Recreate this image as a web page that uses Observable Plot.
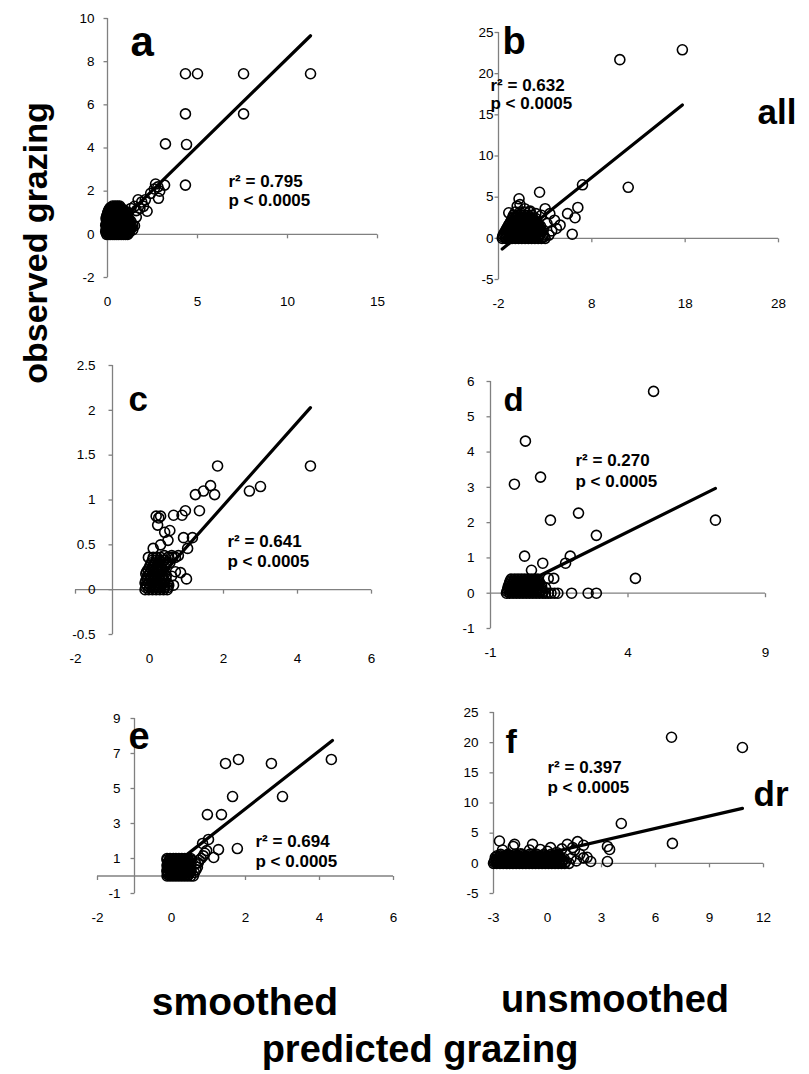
<!DOCTYPE html>
<html><head><meta charset="utf-8">
<script src="https://cdn.jsdelivr.net/npm/d3@7"></script>
<script src="https://cdn.jsdelivr.net/npm/@observablehq/plot@0.6"></script>
<style>
html,body{margin:0;padding:0;background:#fff;}
#fig{position:relative;width:809px;height:1074px;overflow:hidden;background:#fff;}
#fig svg{position:absolute;left:0;top:0;}
</style></head><body><div id="fig"></div>
<script>
// ---------------- data ----------------
// scattered points [predicted, observed]
const ptsA = [
[4.33,7.44],[5.0,7.44],[7.56,7.44],[11.28,7.44],[4.33,5.58],[7.56,5.58],[3.22,4.19],[4.39,4.16],[4.33,2.28],
[2.67,2.33],[3.17,2.28],[2.9,2.0],[2.83,1.67],[2.2,1.07],[2.8,2.2],[2.4,1.9],[2.6,2.1],[2.1,1.6],[1.9,1.5],[1.7,1.6],
[1.5,1.3],[1.6,1.1],[1.3,1.2],[1.1,1.0],[1.2,0.7],[1.8,1.2],[2.0,1.3],[1.6,0.8],[1.3,0.6],[1.5,0.4],[1.4,0.2],[1.2,0.1]
];
// dense clusters, one row per observed level: [observed, [predicted values]]
const rowsA = [
[0.0,  [-0.05,0.08,0.18,0.3,0.41,0.52,0.63,0.76,0.88,1.0,1.12]],
[0.06, [-0.02,0.12,0.24,0.36,0.47,0.58,0.7,0.82,0.94,1.06,1.18]],
[0.12, [-0.1,0.02,0.14,0.26,0.37,0.49,0.61,0.72,0.84,0.97,1.1,1.22]],
[0.2,  [-0.08,0.05,0.17,0.29,0.4,0.52,0.64,0.76,0.88,1.0,1.13,1.26]],
[0.27, [-0.06,0.07,0.19,0.31,0.43,0.56,0.68,0.79,0.92,1.04,1.17,1.3]],
[0.35, [-0.03,0.1,0.22,0.34,0.46,0.59,0.71,0.83,0.95,1.08,1.21,1.34]],
[0.42, [-0.1,0.03,0.15,0.27,0.39,0.5,0.62,0.74,0.87,0.99,1.12,1.25,1.4]],
[0.5,  [-0.07,0.06,0.18,0.3,0.42,0.55,0.67,0.79,0.91,1.03,1.16]],
[0.57, [-0.04,0.09,0.21,0.33,0.45,0.58,0.7,0.81,0.94,1.06,1.2]],
[0.65, [-0.02,0.11,0.23,0.36,0.48,0.6,0.72,0.85,0.97,1.1]],
[0.72, [-0.08,0.04,0.17,0.28,0.4,0.53,0.65,0.77,0.9,1.02,1.15]],
[0.8,  [-0.06,0.07,0.19,0.31,0.44,0.56,0.68,0.8,0.93,1.05]],
[0.87, [-0.03,0.1,0.22,0.35,0.47,0.59,0.71,0.83,0.96,1.08]],
[0.95, [0.0,0.12,0.25,0.37,0.49,0.61,0.73,0.86,0.98]],
[1.02, [0.02,0.14,0.27,0.39,0.51,0.63,0.76,0.88,1.0,1.13]],
[1.1,  [0.06,0.18,0.3,0.42,0.55,0.67,0.79,0.92]],
[1.17, [0.1,0.22,0.34,0.46,0.58,0.7,0.82]],
[1.24, [0.16,0.3,0.44,0.58,0.72]],
[1.31, [0.28,0.42,0.55,0.68]]
];
const fitA = [[0.0,0.0],[11.28,9.2]];

const ptsB = [
[11.0,21.7],[17.7,22.9],[11.9,6.2],[7.0,6.5],[6.5,3.75],[6.2,2.5],[5.4,3.0],[5.9,0.5],[2.4,5.6],[0.2,4.8],
[-0.9,3.1],[1.4,3.3],[3.0,3.6],[3.5,3.0],[4.6,1.6],[3.7,0.9],[2.9,0.2],[4.0,2.2],[2.6,2.8],[3.2,1.8],
[0.0,3.9],[0.3,4.1],[2.5,1.5],[2.8,1.0],[2.0,3.0],[-1.1,1.0],[0.8,3.6],[3.4,0.4],[4.2,1.2]
];
const rowsB = [
[0.0, [-1.6,-1.25,-0.9,-0.55,-0.2,0.15,0.5,0.85,1.2,1.55,1.9,2.25,2.6,3.0]],
[0.2, [-1.55,-1.2,-0.85,-0.5,-0.15,0.2,0.55,0.9,1.25,1.6,1.95,2.3,2.7]],
[0.4, [-1.5,-1.15,-0.8,-0.45,-0.1,0.25,0.6,0.95,1.3,1.65,2.0,2.35,2.8]],
[0.6, [-1.4,-1.05,-0.7,-0.35,0.0,0.35,0.7,1.05,1.4,1.75,2.1,2.5]],
[0.8, [-1.3,-0.95,-0.6,-0.25,0.1,0.45,0.8,1.15,1.5,1.85,2.2,2.6]],
[1.0, [-1.2,-0.85,-0.5,-0.15,0.2,0.55,0.9,1.25,1.6,1.95,2.35]],
[1.2, [-1.1,-0.75,-0.4,-0.05,0.3,0.65,1.0,1.35,1.7,2.05,2.45]],
[1.4, [-1.0,-0.65,-0.3,0.05,0.4,0.75,1.1,1.45,1.8,2.15]],
[1.6, [-0.9,-0.55,-0.2,0.15,0.5,0.85,1.2,1.55,1.9,2.3]],
[1.8, [-0.8,-0.45,-0.1,0.25,0.6,0.95,1.3,1.65,2.0]],
[2.0, [-0.7,-0.35,0.0,0.35,0.7,1.05,1.4,1.75,2.1]],
[2.2, [-0.6,-0.25,0.1,0.45,0.8,1.15,1.5,1.85]],
[2.4, [-0.5,-0.15,0.2,0.55,0.9,1.25,1.6,2.0]],
[2.6, [-0.45,-0.1,0.3,0.65,1.0,1.4]],
[2.8, [-0.4,0.0,0.4,0.8,1.2,1.6]],
[3.2, [-0.2,0.3,0.8,1.3]]
];
const fitB = [[-1.6,-1.3],[17.7,16.2]];

const ptsC = [
[4.35,1.38],[1.84,1.38],[3.0,1.15],[2.7,1.1],[1.65,1.16],[1.24,1.06],[1.46,1.1],[1.76,1.06],[1.35,0.88],[0.97,0.88],
[0.88,0.83],[0.65,0.83],[0.3,0.82],[0.18,0.82],[0.25,0.8],[0.22,0.72],[0.41,0.64],[0.55,0.66],[0.92,0.58],[1.16,0.58],
[1.03,0.46],[0.1,0.46],[-0.03,0.36],[0.4,0.38],[0.5,0.36],[0.6,0.38],[0.7,0.36],[0.78,0.38],
[0.84,0.19],[1.0,0.12],[0.65,0.05],[0.55,0.3],[0.6,0.15],[0.7,0.2],[0.3,0.5],[0.5,0.55]
];
const rowsC = [
[0.0,   [-0.12,-0.02,0.08,0.18,0.28,0.38,0.48]],
[0.025, [-0.1,0.0,0.1,0.2,0.3,0.4,0.5]],
[0.05,  [-0.08,0.02,0.12,0.22,0.32,0.42,0.52]],
[0.075, [-0.12,-0.02,0.08,0.18,0.28,0.38,0.48]],
[0.1,   [-0.1,0.0,0.1,0.2,0.3,0.4]],
[0.125, [-0.06,0.04,0.14,0.24,0.34,0.44]],
[0.15,  [-0.05,0.05,0.15,0.25,0.35,0.45]],
[0.175, [-0.1,0.0,0.1,0.2,0.3,0.4]],
[0.2,   [-0.08,0.02,0.12,0.22,0.32]],
[0.225, [-0.04,0.06,0.16,0.26,0.36]],
[0.25,  [0.0,0.1,0.2,0.3,0.42]],
[0.275, [0.02,0.12,0.22,0.32,0.44]],
[0.3,   [0.05,0.15,0.25,0.35,0.48]],
[0.33,  [0.08,0.18,0.28,0.4]],
[0.36,  [0.1,0.2,0.3,0.62]]
];
const fitC = [[0.0,0.01],[4.35,2.03]];

const ptsD = [
[4.93,5.72],[0.27,4.31],[-0.13,3.09],[0.82,3.29],[1.18,2.07],[2.2,2.27],[2.85,1.64],[7.18,2.07],[4.27,0.42],[0.24,1.05],
[0.9,0.85],[1.9,1.05],[1.73,0.85],[0.49,0.65],[1.1,0.42],[1.3,0.42],[1.95,0],[2.55,0],[2.85,0],[1.33,0],[1.1,0],[1.45,0],
[1.2,0],[1.0,0],[1.0,0.15]
];
const rowsD = [
[0.0,  [-0.42,-0.3,-0.18,-0.06,0.06,0.18,0.3,0.42,0.54,0.66,0.78,0.9]],
[0.05, [-0.4,-0.28,-0.16,-0.04,0.08,0.2,0.32,0.44,0.56,0.68,0.8,0.92]],
[0.1,  [-0.38,-0.26,-0.14,-0.02,0.1,0.22,0.34,0.46,0.58,0.7,0.82]],
[0.15, [-0.36,-0.24,-0.12,0.0,0.12,0.24,0.36,0.48,0.6,0.72,0.84]],
[0.2,  [-0.35,-0.22,-0.1,0.02,0.14,0.26,0.38,0.5,0.62,0.74,0.86]],
[0.25, [-0.32,-0.2,-0.08,0.04,0.16,0.28,0.4,0.52,0.64,0.76]],
[0.3,  [-0.3,-0.18,-0.06,0.06,0.18,0.3,0.42,0.54,0.66,0.78]],
[0.35, [-0.28,-0.15,-0.03,0.09,0.21,0.33,0.45,0.57,0.69]],
[0.4,  [-0.25,-0.12,0.0,0.12,0.24,0.36,0.48,0.6,0.72]]
];
const fitD = [[-0.42,0.03],[7.18,2.97]];

const ptsE = [
[1.81,6.66],[1.46,6.43],[2.7,6.43],[4.32,6.66],[1.65,4.54],[3.0,4.54],[0.97,3.51],[1.35,3.51],[1.78,1.57],[1.27,1.51],
[1.14,1.06],[1.0,2.09],[0.84,1.86],[0.9,1.3],[0.75,0.9],[0.7,0.5],[0.62,0.2],[0.59,0.0],[0.8,1.0],[0.65,0.7],
[0.66,0.35],[0.72,0.75],[0.86,1.15],[0.95,1.45]
];
const rowsE = [
[0.0,  [-0.12,-0.04,0.04,0.12,0.2,0.28,0.36,0.44,0.52]],
[0.08, [-0.1,-0.02,0.06,0.14,0.22,0.3,0.38,0.46]],
[0.17, [-0.09,0.0,0.08,0.16,0.25,0.32,0.4,0.49]],
[0.25, [-0.12,-0.04,0.04,0.12,0.2,0.28,0.36,0.44,0.52]],
[0.33, [-0.12,-0.03,0.05,0.12,0.2,0.29,0.36,0.44,0.53]],
[0.42, [-0.1,-0.02,0.06,0.14,0.22,0.3,0.38,0.46]],
[0.5,  [-0.08,0.0,0.09,0.16,0.24,0.33,0.4,0.48]],
[0.58, [-0.12,-0.04,0.04,0.12,0.2,0.28,0.36,0.44,0.52]],
[0.67, [-0.11,-0.04,0.04,0.13,0.2,0.28,0.37,0.44,0.52]],
[0.75, [-0.1,-0.02,0.06,0.14,0.22,0.3,0.38,0.46]],
[0.83, [-0.08,0.01,0.08,0.16,0.24,0.32,0.41,0.48]],
[0.92, [-0.12,-0.04,0.04,0.12,0.2,0.28,0.36,0.44,0.52]],
[1.0,  [-0.12,-0.04,0.05,0.12,0.2,0.28,0.36,0.45,0.52]]
];
const fitE = [[-0.05,0.45],[4.35,7.74]];

const ptsF = [
[6.89,20.9],[10.83,19.2],[4.1,6.6],[6.94,3.3],[3.33,2.8],[3.45,2.3],[3.33,0.3],[-2.67,3.7],[-1.83,3.15],[-0.83,3.15],
[0.17,2.6],[1.1,3.15],[1.67,3.6],[2.0,3.0],[1.5,2.2],[2.4,0.3],[2.2,1.0],[1.8,1.5],[1.3,0.8],[-1.9,2.8],[-2.2,1.3],
[-1.5,1.6],[0.5,1.8],[-1.0,2.2],[-0.4,2.3],[0.0,2.0],[1.2,0.0],[1.6,0.4],[2.0,0.9],[1.4,2.6],[0.8,2.4],[-2.5,2.2]
];
const rowsF = [
[0.0,  [-3.0,-2.82,-2.64,-2.46,-2.28,-2.1,-1.92,-1.74,-1.56,-1.38,-1.2,-1.02,-0.84,-0.66,-0.48,-0.3,-0.12,0.06,0.24,0.42,0.6,0.78,0.96]],
[0.25, [-2.96,-2.78,-2.6,-2.42,-2.24,-2.06,-1.88,-1.7,-1.52,-1.34,-1.16,-0.98,-0.8,-0.62,-0.44,-0.26,-0.08,0.1,0.28,0.46,0.64,0.82,1.0]],
[0.5,  [-2.92,-2.74,-2.56,-2.38,-2.2,-2.02,-1.84,-1.66,-1.48,-1.3,-1.12,-0.94,-0.76,-0.58,-0.4,-0.22,-0.04,0.14,0.32,0.5,0.68,0.86]],
[0.75, [-2.86,-2.68,-2.5,-2.32,-2.14,-1.96,-1.78,-1.6,-1.42,-1.24,-1.06,-0.88,-0.7,-0.52,-0.34,-0.16,0.02,0.2,0.38,0.56,0.74,0.92]],
[1.0,  [-2.9,-2.7,-2.5,-2.3,-2.1,-1.9,-1.7,-1.5,-1.3,-1.1,-0.9,-0.7,-0.5,-0.3,-0.1,0.1,0.3,0.5,0.7]],
[1.25, [-2.8,-2.6,-2.4,-2.2,-2.0,-1.8,-1.6,-1.4,-1.2,-1.0,-0.8,-0.6,-0.4,-0.2,0.0,0.2,0.4,0.6]],
[1.5,  [-2.6,-2.2,-1.8,-1.4,-1.0,-0.6,-0.2,0.2,0.6]]
];
const fitF = [[-3,-0.4],[10.83,9.1]];

const xTicksA = [0,5,10,15],   yTicksA = [-2,0,2,4,6,8,10];
const xTicksB = [-2,8,18,28],  yTicksB = [-5,0,5,10,15,20,25];
const xTicksC = [-2,0,2,4,6],  yTicksC = [-0.5,0,0.5,1,1.5,2,2.5];
const xTicksD = [-1,4,9],      yTicksD = [-1,0,1,2,3,4,5,6];
const xTicksE = [-2,0,2,4,6],  yTicksE = [-1,1,3,5,7,9];
const xTicksF = [-3,0,3,6,9,12], yTicksF = [-5,0,5,10,15,20,25];

const letters = ["a","b","c","d","e","f"];
const stats = ["r² = 0.795\np < 0.0005","r² = 0.632\np < 0.0005","r² = 0.641\np < 0.0005",
               "r² = 0.270\np < 0.0005","r² = 0.694\np < 0.0005","r² = 0.397\np < 0.0005"];
const rowLabels = ["all","wet","dr"];
const colLabels = ["smoothed","unsmoothed"];
const yTitle = "observed grazing";
const xTitle = "predicted grazing";

// ---------------- layout ----------------
const W = 809, H = 1074;
const FONT = "'Liberation Sans', Arial, Helvetica, sans-serif";
const AXIS = "#808080";
const expand = (pts, rows) => pts.concat(rows.flatMap(([yv, xs]) => xs.map(xv => [xv, yv])));

const panels = [
 {pts: expand(ptsA, rowsA), fit: fitA, xd:[0,15], yd:[-2,10], xt:xTicksA, yt:yTicksA, xc:0, frame:[107,377,18,277], yGap:13,
  letter:{t:letters[0], dx:23, dy:37, fs:42}, stat:{t:stats[0], dx:121, dy:187, lh:1.06}},
 {pts: expand(ptsB, rowsB), fit: fitB, xd:[-2,28], yd:[-5,25], xt:xTicksB, yt:yTicksB, xc:-2, frame:[498,778,32,279], yGap:5,
  letter:{t:letters[1], dx:4, dy:21, fs:38}, stat:{t:stats[1], dx:-8, dy:76, lh:1.02},
  side:{t:rowLabels[0], dx:259, dy:91, fs:35}},
 {pts: expand(ptsC, rowsC), fit: fitC, xd:[-2,6], yd:[-0.5,2.5], xt:xTicksC, yt:yTicksC, xc:-1, frame:[75,371,365,634], yGap:17,
  letter:{t:letters[2], dx:53, dy:45, fs:35}, stat:{t:stats[2], dx:152, dy:201, lh:1.12}},
 {pts: expand(ptsD, rowsD), fit: fitD, xd:[-1,9], yd:[-1,6], xt:xTicksD, yt:yTicksD, xc:-1, frame:[490,765,381,628], yGap:16,
  letter:{t:letters[3], dx:13, dy:29, fs:33}, stat:{t:stats[3], dx:85, dy:105, lh:1.22}},
 {pts: expand(ptsE, rowsE), fit: fitE, xd:[-2,6], yd:[-1,9], xt:xTicksE, yt:yTicksE, xc:-1, frame:[97,393,718,893], yGap:14,
  letter:{t:letters[4], dx:31, dy:30, fs:38}, stat:{t:stats[4], dx:158, dy:148, lh:1.12}},
 {pts: expand(ptsF, rowsF), fit: fitF, xd:[-3,12], yd:[-5,25], xt:xTicksF, yt:yTicksF, xc:-3, frame:[493,763,712,893], yGap:15,
  letter:{t:letters[5], dx:12, dy:40, fs:34}, stat:{t:stats[5], dx:54, dy:80, lh:1.17},
  side:{t:rowLabels[2], dx:260, dy:93, fs:35}}
];

const tickDown = {draw(ctx){ ctx.moveTo(0,0); ctx.lineTo(0,4); }};
const tickLeft = {draw(ctx){ ctx.moveTo(0,0); ctx.lineTo(-4,0); }};

const fig = document.getElementById("fig");

for (const p of panels) {
  const [L,R,T,B] = p.frame;
  const [xmin,xmax] = p.xd, [ymin,ymax] = p.yd;
  const marks = [
    Plot.ruleY([0], {x1: xmin, x2: xmax, stroke: AXIS, strokeWidth: 1.3}),
    Plot.ruleX([p.xc], {y1: ymin, y2: ymax, stroke: AXIS, strokeWidth: 1.3}),
    Plot.dot(p.xt.filter(t => t !== p.xc), {x: d => d, y: () => 0, symbol: tickDown, fill: "none", stroke: AXIS, strokeWidth: 1.3}),
    Plot.dot(p.yt, {x: () => p.xc, y: d => d, symbol: tickLeft, fill: "none", stroke: AXIS, strokeWidth: 1.3}),
    Plot.text(p.yt, {x: () => p.xc, y: d => d, text: d => String(d), textAnchor: "end", dx: -p.yGap, fontSize: 13.5, fill: "black"}),
    Plot.text(p.xt, {x: d => d, y: () => ymin, text: d => String(d), dy: 24, fontSize: 13.5, fill: "black"}),
    Plot.dot(p.pts, {x: d => d[0], y: d => d[1], r: 5, fill: "none", stroke: "black", strokeWidth: 1.6}),
    Plot.line(p.fit, {x: d => d[0], y: d => d[1], stroke: "black", strokeWidth: 3.2}),
    Plot.text([p.letter.t], {text: d => d, frameAnchor: "top-left", textAnchor: "start", lineAnchor: "bottom",
      dx: p.letter.dx, dy: p.letter.dy, fontSize: p.letter.fs, fontWeight: "bold", fill: "black"}),
    Plot.text([p.stat.t], {text: d => d, frameAnchor: "top-left", textAnchor: "start", lineAnchor: "bottom",
      dx: p.stat.dx, dy: p.stat.dy, fontSize: 17, lineHeight: p.stat.lh, fontWeight: "bold", fill: "black"})
  ];
  if (p.side) marks.push(Plot.text([p.side.t], {text: d => d, frameAnchor: "top-left", textAnchor: "start", lineAnchor: "bottom",
      dx: p.side.dx, dy: p.side.dy, fontSize: p.side.fs, fontWeight: "bold", fill: "black"}));
  const svg = Plot.plot({
    width: W, height: H,
    marginLeft: L, marginRight: W - R, marginTop: T, marginBottom: H - B,
    x: {domain: p.xd, axis: null},
    y: {domain: p.yd, axis: null},
    style: {background: "transparent", fontFamily: FONT, color: "black", overflow: "visible"},
    marks
  });
  svg.style.position = "absolute"; svg.style.left = "0px"; svg.style.top = "0px";
  svg.style.maxWidth = "none";
  fig.appendChild(svg);
}

// titles
const ov = d3.select(fig).append("svg").attr("width", W).attr("height", H)
  .style("font-family", FONT).style("font-weight", "bold").attr("fill", "black");
ov.append("text").attr("transform", "translate(47,243) rotate(-90)").attr("text-anchor", "middle")
  .attr("font-size", 34).text(yTitle);
ov.append("text").attr("x", 245).attr("y", 1015).attr("text-anchor", "middle").attr("font-size", 39).text(colLabels[0]);
ov.append("text").attr("x", 615).attr("y", 1012).attr("text-anchor", "middle").attr("font-size", 38).text(colLabels[1]);
ov.append("text").attr("x", 420).attr("y", 1062).attr("text-anchor", "middle").attr("font-size", 38).text(xTitle);
</script></body></html>
